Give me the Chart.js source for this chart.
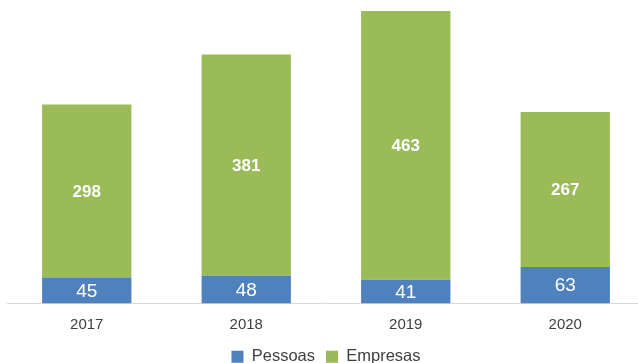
<!DOCTYPE html>
<html>
<head>
<meta charset="utf-8">
<script src="https://cdn.jsdelivr.net/npm/chart.js@4"></script>
<style>
    html, body { margin: 0; padding: 0; background: #fff; overflow: hidden; }
    #wrap { width: 645px; height: 375px; position: relative; }
</style>
</head>
<body>
<div id="wrap"><canvas id="chart"></canvas></div>
<script>
const years = ['2017', '2018', '2019', '2020'];
const pessoas = [45, 48, 41, 63];
const empresas = [298, 381, 463, 267];

// draws the value in the middle of each bar segment
const barLabels = {
    id: 'barLabels',
    afterDatasetsDraw(chart) {
        const ctx = chart.ctx;
        chart.data.datasets.forEach((ds, i) => {
            const meta = chart.getDatasetMeta(i);
            meta.data.forEach((bar, j) => {
                const mid = (bar.y + bar.base) / 2;
                ctx.save();
                ctx.fillStyle = '#fff';
                ctx.font = ds.labelFont;
                ctx.textAlign = 'center';
                ctx.textBaseline = 'middle';
                ctx.fillText(ds.data[j], bar.x, mid + 1);
                ctx.restore();
            });
        });
    }
};

new Chart(document.getElementById('chart'), {
    type: 'bar',
    data: {
        labels: years,
        datasets: [{
            label: 'Pessoas',
            data: pessoas,
            backgroundColor: '#4F81BD',
            labelFont: '19px "Liberation Sans", Arial, sans-serif'
        }, {
            label: 'Empresas',
            data: empresas,
            backgroundColor: '#9BBB59',
            labelFont: 'bold 17px "Liberation Sans", Arial, sans-serif'
        }]
    },
    options: {
        responsive: true,
        maintainAspectRatio: false,
        animation: false,
        layout: { padding: { left: 7, right: 0, top: 0, bottom: 0 } },
        datasets: {
            bar: { barPercentage: 1, categoryPercentage: 0.56 }
        },
        scales: {
            x: {
                stacked: true,
                grid: { display: false },
                border: { display: true, color: '#d9d9d9', width: 1 },
                ticks: {
                    color: '#404040',
                    padding: 4,
                    font: { family: '"Liberation Sans", Arial, sans-serif', size: 15 }
                }
            },
            y: {
                stacked: true,
                display: false,
                min: 0,
                max: 523
            }
        },
        plugins: {
            tooltip: { enabled: false },
            legend: {
                position: 'bottom',
                labels: {
                    color: '#404040',
                    boxWidth: 12,
                    boxHeight: 12,
                    padding: 11,
                    font: { family: '"Liberation Sans", Arial, sans-serif', size: 16.5 }
                }
            }
        }
    },
    plugins: [barLabels]
});
</script>
</body>
</html>
